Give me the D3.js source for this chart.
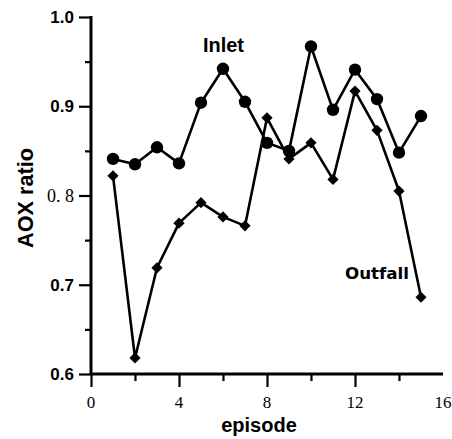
<!DOCTYPE html>
<html><head><meta charset="utf-8">
<script src="https://cdn.jsdelivr.net/npm/d3@7"></script>
<style>body{margin:0;background:#fff}svg{display:block}</style>
</head><body>
<svg id="c" width="452" height="439"></svg>
<script>
const episodes = [1,2,3,4,5,6,7,8,9,10,11,12,13,14,15];
const inlet   = [0.841,0.835,0.854,0.836,0.904,0.942,0.905,0.859,0.850,0.967,0.896,0.941,0.908,0.848,0.889];
const outfall = [0.822,0.618,0.719,0.769,0.792,0.776,0.766,0.887,0.841,0.859,0.818,0.917,0.873,0.805,0.686];
const xMajor = [0,4,8,12];
const xMinor = [2,6,10,14];
const xLabels = [0,4,8,12,16];
const yMajor = [0.6,0.7,0.8,0.9,1.0];
const yMinor = [0.65,0.75,0.85,0.95];

const svg = d3.select("#c");
const x = d3.scaleLinear().domain([0,16]).range([91,443]);
const y = d3.scaleLinear().domain([0.6,1.0]).range([374,17]);

// Axis lines
svg.append("line").attr("x1",x(0)).attr("x2",x(16)).attr("y1",y(0.6)).attr("y2",y(0.6))
  .attr("stroke","#000").attr("stroke-width",3);
svg.append("line").attr("x1",x(0)).attr("x2",x(0)).attr("y1",y(1.0)-1).attr("y2",y(0.6))
  .attr("stroke","#000").attr("stroke-width",3);

// X axis ticks
const gx = svg.append("g").attr("transform",`translate(0,${y(0.6)})`)
  .call(d3.axisBottom(x).tickValues(xMajor).tickSize(13).tickFormat(""));
const gx2 = svg.append("g").attr("transform",`translate(0,${y(0.6)})`)
  .call(d3.axisBottom(x).tickValues(xMinor).tickSize(7).tickFormat(""));
[gx,gx2].forEach(g=>{g.select(".domain").remove();g.selectAll("line").attr("stroke","#000").attr("stroke-width",2.2);});
svg.append("g").selectAll("text").data(xLabels).join("text")
  .attr("x",d=>x(d)).attr("y",408).attr("text-anchor","middle")
  .attr("font-family","Liberation Serif, Times New Roman, serif").attr("font-size",17)
  .text(d=>d);

// Y axis ticks
const gy = svg.append("g").attr("transform",`translate(${x(0)},0)`)
  .call(d3.axisLeft(y).tickValues(yMajor).tickSize(12).tickPadding(5).tickFormat(d3.format(".1f")));
const gy2 = svg.append("g").attr("transform",`translate(${x(0)},0)`)
  .call(d3.axisLeft(y).tickValues(yMinor).tickSize(6).tickFormat(""));
[gy,gy2].forEach(g=>{g.select(".domain").remove();g.selectAll("line").attr("stroke","#000").attr("stroke-width",2.2);});
gy.selectAll("text").attr("fill","#000")
  .attr("font-family","Liberation Sans, Arial, sans-serif").attr("font-weight","bold").attr("font-size",17);
gy.selectAll(".tick").filter(d=>Math.abs(d-0.8)<1e-9).select("text")
  .attr("font-family","Liberation Serif, Times New Roman, serif").attr("font-weight","normal")
  .attr("font-size",18).text("0. 8");

// Axis titles
svg.append("text").attr("transform","translate(33,198) rotate(-90)").attr("text-anchor","middle")
  .attr("font-family","Liberation Sans, Arial, sans-serif").attr("font-weight","bold").attr("font-size",22)
  .attr("textLength",100).attr("lengthAdjust","spacingAndGlyphs").text("AOX ratio");
svg.append("text").attr("x",259).attr("y",432).attr("text-anchor","middle")
  .attr("font-family","Liberation Sans, Arial, sans-serif").attr("font-weight","bold").attr("font-size",20)
  .text("episode");

// Lines
const lineGen = d3.line().x(d=>x(d[0])).y(d=>y(d[1]));
const inletPts = episodes.map((e,i)=>[e,inlet[i]]);
const outPts = episodes.map((e,i)=>[e,outfall[i]]);
[outPts,inletPts].forEach(p=>svg.append("path").attr("d",lineGen(p)).attr("fill","none")
  .attr("stroke","#000").attr("stroke-width",2.6).attr("stroke-linejoin","round"));

// Markers
svg.append("g").selectAll("circle").data(inletPts).join("circle")
  .attr("cx",d=>x(d[0])).attr("cy",d=>y(d[1])).attr("r",6.2).attr("fill","#000");
const dia = d3.symbol().type(d3.symbolDiamond2).size(80);
svg.append("g").selectAll("path").data(outPts).join("path")
  .attr("transform",d=>`translate(${x(d[0])},${y(d[1])})`).attr("d",dia).attr("fill","#000");

// Series labels
svg.append("text").attr("x",223.5).attr("y",52).attr("text-anchor","middle")
  .attr("font-family","Liberation Sans, Arial, sans-serif").attr("font-weight","bold").attr("font-size",19.5)
  .attr("textLength",41).attr("lengthAdjust","spacingAndGlyphs").text("Inlet");
svg.append("text").attr("x",345).attr("y",279)
  .attr("font-family","DejaVu Sans, sans-serif").attr("font-weight","bold").attr("font-size",15.5)
  .attr("textLength",64).attr("lengthAdjust","spacingAndGlyphs").text("Outfall");
</script>
</body></html>
